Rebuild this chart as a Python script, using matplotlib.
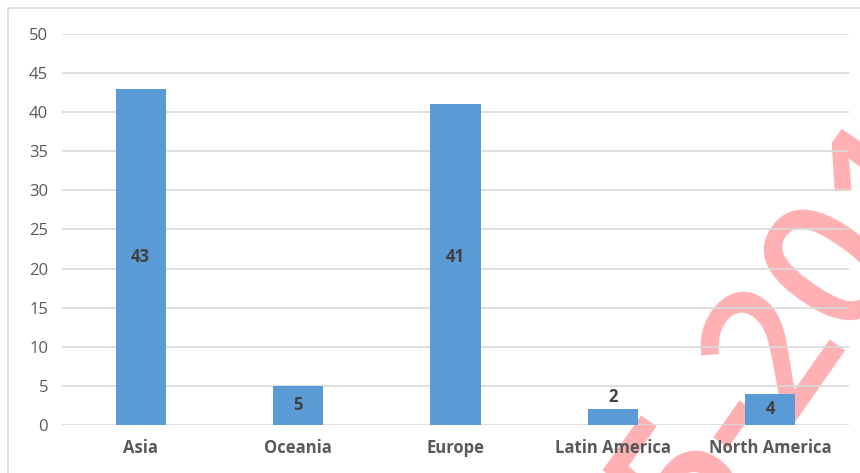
import matplotlib
matplotlib.use("Agg")
import matplotlib.pyplot as plt
from matplotlib.patches import Rectangle

plt.rcParams['font.family'] = ['Open Sans', 'DejaVu Sans']

regions = ["Asia", "Oceania", "Europe", "Latin America", "North America"]
counts = [43, 5, 41, 2, 4]
yticks = [0, 5, 10, 15, 20, 25, 30, 35, 40, 45, 50]

bar_color = "#5b9bd5"
grid_color = "#d9d9d9"
text_color = "#595959"
label_color = "#404040"

fig = plt.figure(figsize=(8.6, 4.73), dpi=100)
ax = fig.add_axes([0.0721, 0.1015, 0.9149, 0.8266])
ax.set_facecolor("none")

# outer chart border
fig.patches.append(Rectangle((8 / 860, -0.05), 1.0, 1.05 - 8 / 473,
                             transform=fig.transFigure, fill=False,
                             edgecolor=grid_color, linewidth=1.2, zorder=-2))

# watermark, sits behind the chart
fig.text(0.92, 0.30, "5-201", rotation=55, rotation_mode="anchor",
         ha="center", va="center", fontsize=130, fontweight="semibold",
         color="#ffb0b3", zorder=-1)

x = range(len(regions))
ax.bar(x, counts, width=0.32, color=bar_color, zorder=3)

# in the original the Europe label sits level with the Asia one
label_at = {2: 21.5}
for i, v in enumerate(counts):
    if v < 3:
        ax.text(i, v + 0.4, str(v), ha="center", va="bottom", fontsize=12,
                fontweight="bold", color=label_color, zorder=4)
    else:
        ax.text(i, label_at.get(i, v / 2), str(v), ha="center", va="center",
                fontsize=12, fontweight="bold", color=label_color, zorder=4)

ax.set_xlim(-0.5, len(regions) - 0.5)
ax.set_ylim(0, 50)
ax.set_yticks(yticks)
ax.set_xticks(list(x))
ax.set_xticklabels(regions, fontsize=12, fontweight="bold", color=text_color)
ax.tick_params(axis="y", labelsize=12, labelcolor=text_color, length=0, pad=10)
ax.tick_params(axis="x", length=0, pad=10)
ax.yaxis.grid(True, color=grid_color, linewidth=1.2, zorder=0)
ax.set_axisbelow(True)
for s in ax.spines.values():
    s.set_visible(False)

fig.savefig("out.png", dpi=100)
